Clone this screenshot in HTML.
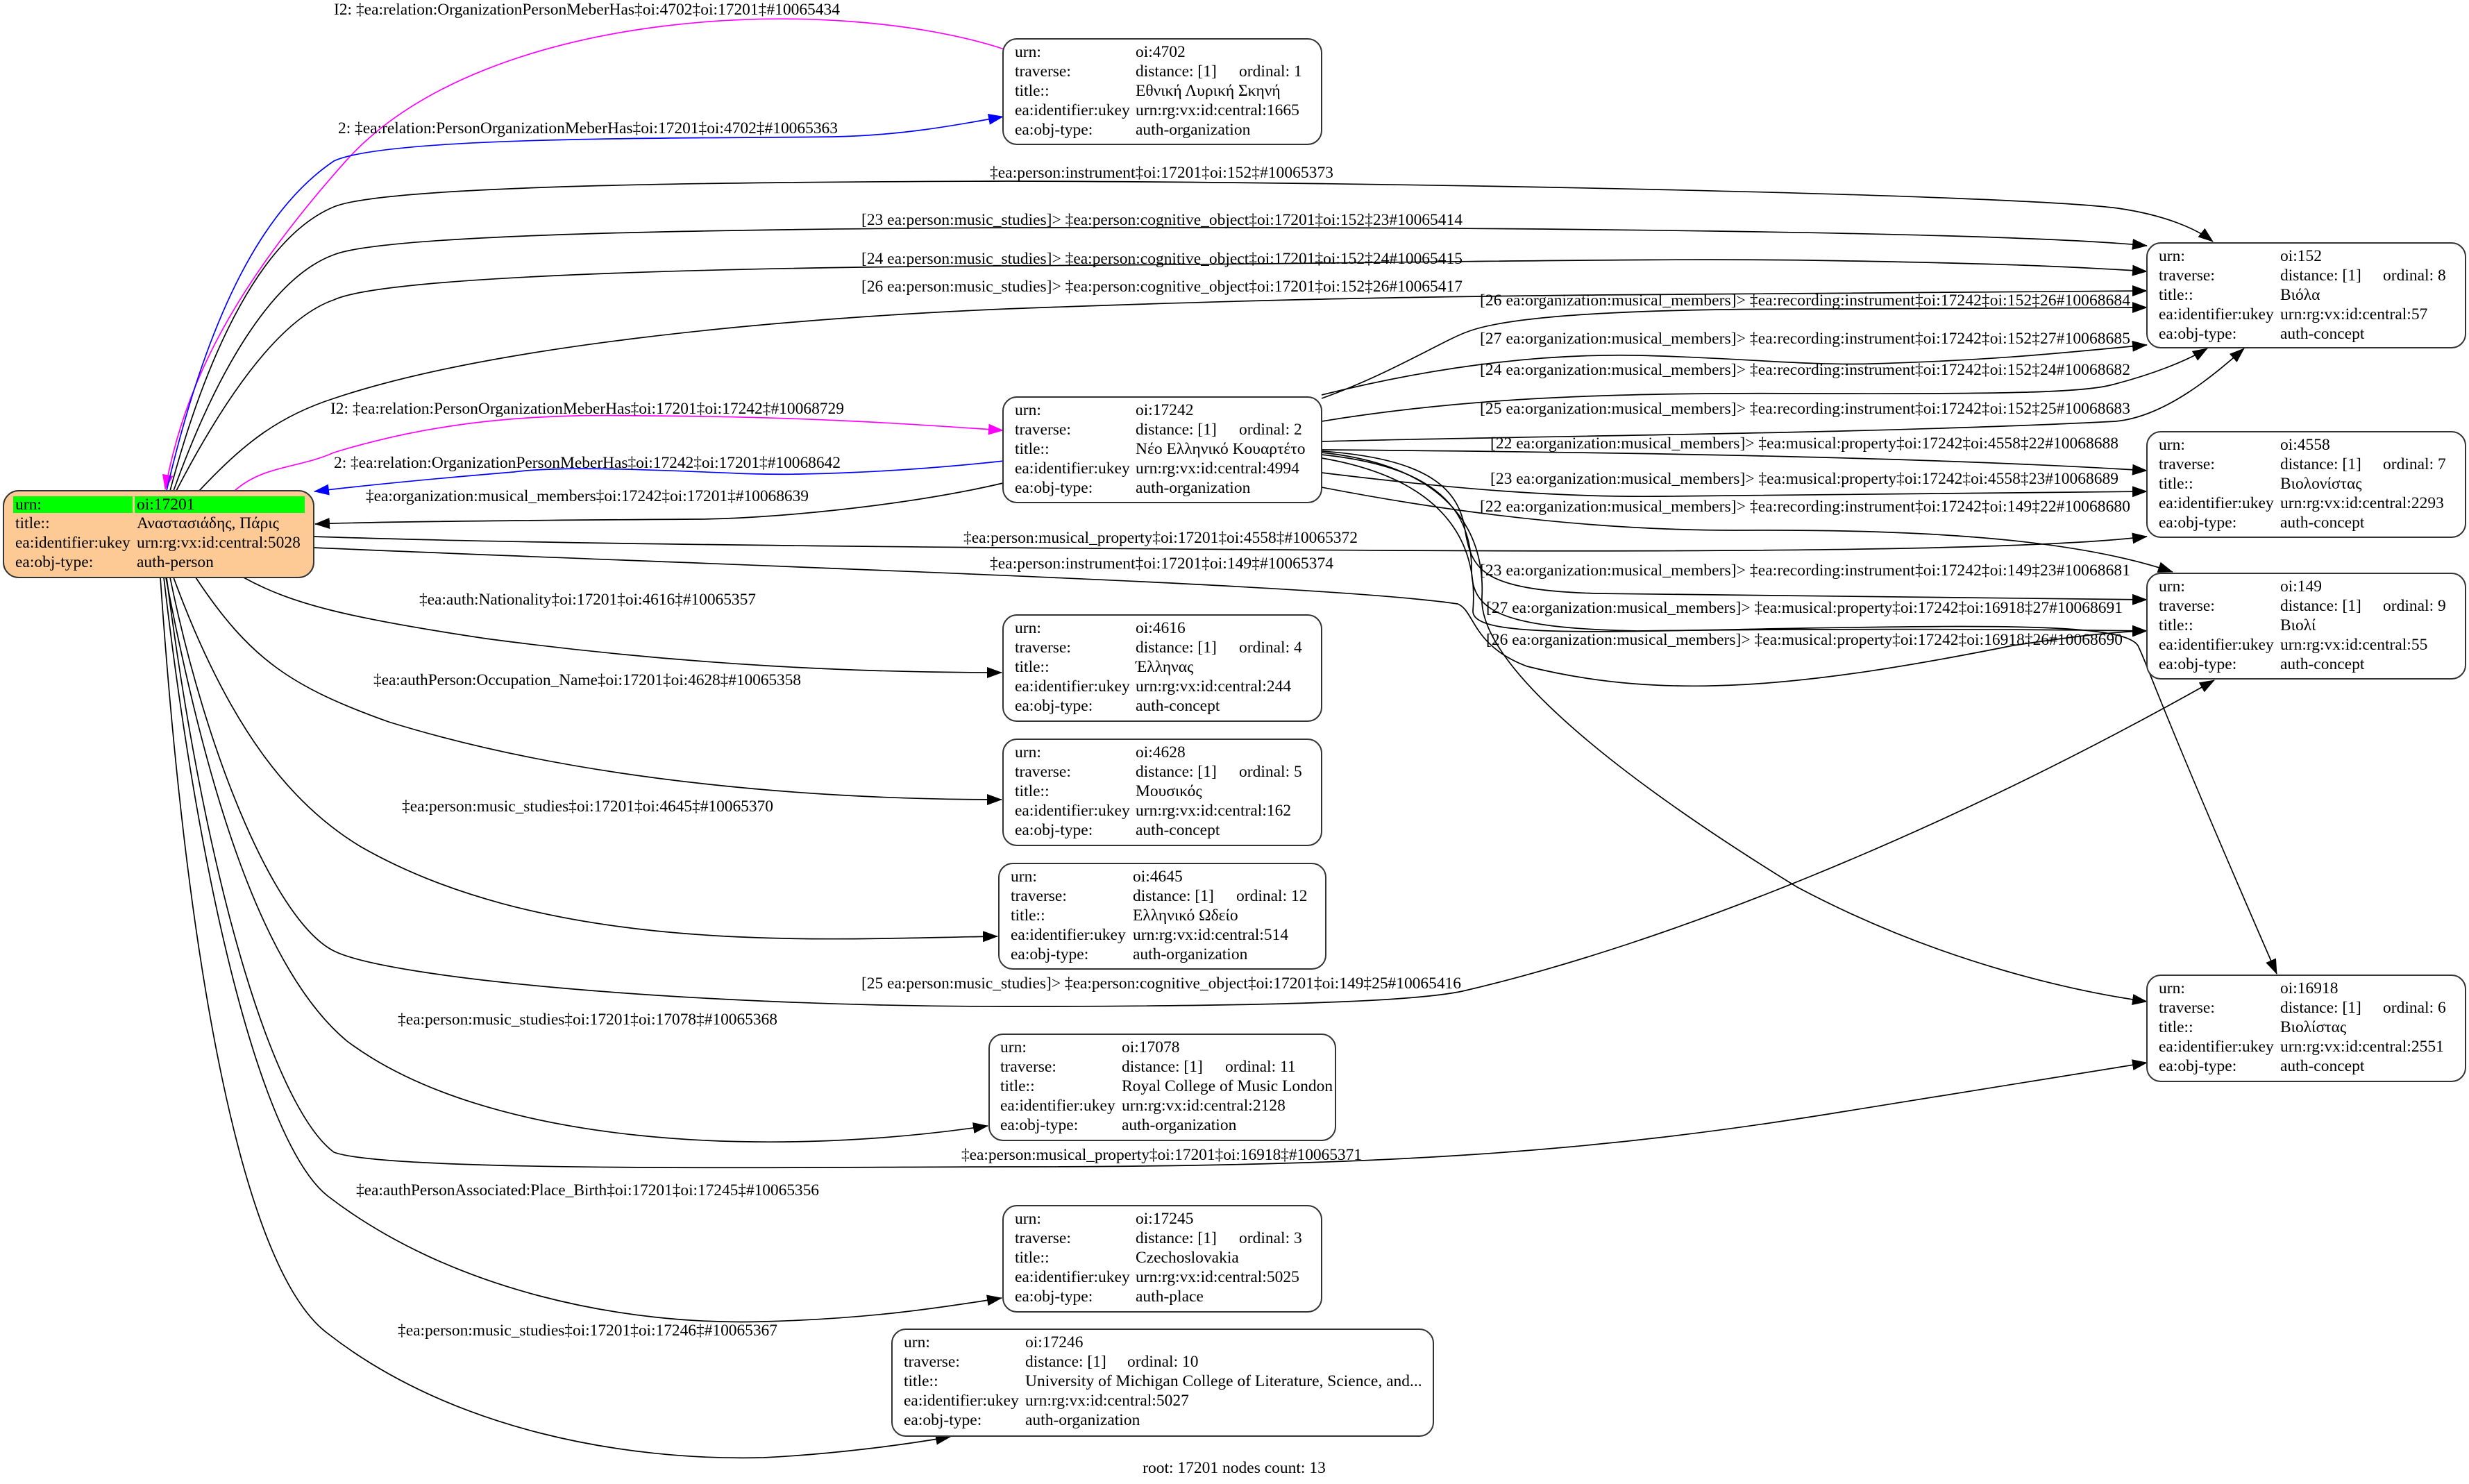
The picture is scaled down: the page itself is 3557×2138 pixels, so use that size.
<!DOCTYPE html>
<html><head><meta charset="utf-8"><style>
html,body{margin:0;padding:0;background:#fff;}
svg{display:block;}
text{font-family:"Liberation Serif","DejaVu Serif",serif;font-size:23.5px;fill:#000;}
.e{fill:none;stroke:#000;stroke-width:1.7;}
.n{fill:#fff;stroke:#333;stroke-width:2;}
</style></head><body>
<svg width="3557" height="2138" viewBox="0 0 3557 2138" xmlns="http://www.w3.org/2000/svg">
<defs>
<marker id="k" markerWidth="22" markerHeight="16" refX="21" refY="8" orient="auto" markerUnits="userSpaceOnUse"><path d="M0,0 L22,8 L0,16z" fill="#000"/></marker>
<marker id="m" markerWidth="22" markerHeight="16" refX="21" refY="8" orient="auto" markerUnits="userSpaceOnUse"><path d="M0,0 L22,8 L0,16z" fill="#f0f"/></marker>
<marker id="b" markerWidth="22" markerHeight="16" refX="21" refY="8" orient="auto" markerUnits="userSpaceOnUse"><path d="M0,0 L22,8 L0,16z" fill="#00f"/></marker>
</defs>

<!-- edges -->
<path d="M1447,71 C1200,-10 700,10 500,230 C330,420 265,560 238,705" style="fill:none;stroke:#f0f;stroke-width:1.7" marker-end="url(#m)"/>
<path d="M240,707 C300,450 380,300 481,232 C560,195 1000,200 1202,197 C1300,195 1380,180 1445,168" style="fill:none;stroke:#00f;stroke-width:1.7" marker-end="url(#b)"/>
<path class="e" d="M245,707 C300,500 380,340 481,298 C560,265 1100,262 1450,261 C2000,262 2900,280 3051,300 C3120,310 3165,330 3188,348" marker-end="url(#k)"/>
<path class="e" d="M250,707 C310,540 390,400 481,367 C560,335 1100,330 1450,328 C2200,326 2900,335 3093,354" marker-end="url(#k)"/>
<path class="e" d="M254,707 C320,580 400,460 481,432 C560,395 1100,385 1450,383 C2000,380 2400,370 2665,376 C2900,380 3000,385 3093,391" marker-end="url(#k)"/>
<path class="e" d="M287,707 C350,640 400,600 481,574 C700,500 1100,460 1450,445 C1800,432 2000,428 2300,425 C2700,421 2950,419 3093,419" marker-end="url(#k)"/>
<path d="M338,707 C380,670 430,675 481,652 C650,600 800,597 925,599 C1150,600 1300,610 1445,620" style="fill:none;stroke:#f0f;stroke-width:1.7" marker-end="url(#m)"/>
<path d="M1447,664 C1300,680 1150,686 1063,682 C900,675 800,672 740,680 C620,690 520,700 453,708" style="fill:none;stroke:#00f;stroke-width:1.7" marker-end="url(#b)"/>
<path class="e" d="M1445,696 C1300,730 1100,748 1000,748 C700,750 520,752 454,755" marker-end="url(#k)"/>
<path class="e" d="M452,773 C800,785 1500,790 2000,793 C2600,796 2950,790 3093,773" marker-end="url(#k)"/>
<path class="e" d="M452,789 C1000,813 1900,840 2100,870 C2125,880 2120,930 2200,960 C2400,1010 2600,990 2900,930 C3000,915 3050,910 3093,909" marker-end="url(#k)"/>
<path class="e" d="M351,832 C420,870 500,890 700,920 C1000,960 1250,969 1443,969" marker-end="url(#k)"/>
<path class="e" d="M282,832 C360,950 420,990 560,1040 C850,1130 1200,1152 1443,1152" marker-end="url(#k)"/>
<path class="e" d="M250,832 C330,1050 420,1160 520,1220 C800,1380 1200,1352 1437,1349" marker-end="url(#k)"/>
<path class="e" d="M245,832 C300,1100 400,1330 481,1370 C560,1410 1000,1450 1450,1450 C1900,1450 2050,1440 2107,1428 C2400,1360 2800,1200 3190,980" marker-end="url(#k)"/>
<path class="e" d="M239,832 C300,1150 380,1400 500,1500 C700,1650 1100,1670 1423,1622" marker-end="url(#k)"/>
<path class="e" d="M240,832 C300,1300 400,1600 481,1660 C560,1690 1200,1681 1450,1681 C2000,1681 2300,1660 2665,1600 C2850,1570 3000,1545 3093,1531" marker-end="url(#k)"/>
<path class="e" d="M236,832 C290,1300 380,1650 472,1723 C650,1860 900,1910 1100,1904 C1250,1900 1350,1885 1443,1870" marker-end="url(#k)"/>
<path class="e" d="M231,832 C270,1400 350,1830 472,1921 C650,2060 900,2105 1100,2100 C1200,2095 1300,2082 1369,2070" marker-end="url(#k)"/>

<path class="e" d="M1904,574 C2000,540 2080,490 2114,478 C2200,445 2500,445 2665,445 C2900,445 3000,443 3093,443" marker-end="url(#k)"/>
<path class="e" d="M1904,569 C2100,520 2250,510 2359,512 C2500,515 2600,527 2700,524 C2900,518 3000,505 3093,497" marker-end="url(#k)"/>
<path class="e" d="M1904,607 C2100,575 2300,565 2600,567 C2900,568 3000,565 3040,555 C3100,540 3150,520 3180,502" marker-end="url(#k)"/>
<path class="e" d="M1904,636 C2200,628 2700,625 3048,607 C3120,600 3190,540 3233,502" marker-end="url(#k)"/>
<path class="e" d="M1904,648 C2400,652 2800,660 3093,678" marker-end="url(#k)"/>
<path class="e" d="M1904,681 C2100,705 2250,717 2400,715 C2700,712 2950,710 3093,708" marker-end="url(#k)"/>
<path class="e" d="M1904,702 C2100,740 2300,764 2500,764 C2800,762 3000,780 3130,824" marker-end="url(#k)"/>
<path class="e" d="M1904,650 C2050,660 2100,700 2110,760 C2120,820 2130,850 2300,855 C2600,860 2900,862 3093,864" marker-end="url(#k)"/>
<path class="e" d="M1904,655 C2050,670 2120,720 2120,820 C2120,880 2160,905 2359,909 C2700,905 2950,907 3093,909" marker-end="url(#k)"/>
<path class="e" d="M1904,660 C2080,690 2130,780 2122,880 C2120,920 2300,910 2600,905 C2900,900 3060,900 3080,930 C3095,960 3100,990 3280,1403" marker-end="url(#k)"/>
<path class="e" d="M1904,652 C2080,670 2140,760 2135,860 C2130,950 2300,1100 2589,1278 C2800,1390 3000,1430 3093,1443" marker-end="url(#k)"/>

<!-- edge labels -->
<text x="481" y="21" textLength="729">I2: ‡ea:relation:OrganizationPersonMeberHas‡oi:4702‡oi:17201‡#10065434</text>
<text x="487" y="192" textLength="720">2: ‡ea:relation:PersonOrganizationMeberHas‡oi:17201‡oi:4702‡#10065363</text>
<text x="1426" y="256" textLength="495">‡ea:person:instrument‡oi:17201‡oi:152‡#10065373</text>
<text x="1241" y="324" textLength="866">[23 ea:person:music_studies]&gt; ‡ea:person:cognitive_object‡oi:17201‡oi:152‡23#10065414</text>
<text x="1241" y="380" textLength="866">[24 ea:person:music_studies]&gt; ‡ea:person:cognitive_object‡oi:17201‡oi:152‡24#10065415</text>
<text x="1241" y="420" textLength="866">[26 ea:person:music_studies]&gt; ‡ea:person:cognitive_object‡oi:17201‡oi:152‡26#10065417</text>
<text x="476" y="596" textLength="740">I2: ‡ea:relation:PersonOrganizationMeberHas‡oi:17201‡oi:17242‡#10068729</text>
<text x="481" y="674" textLength="730">2: ‡ea:relation:OrganizationPersonMeberHas‡oi:17242‡oi:17201‡#10068642</text>
<text x="527" y="722" textLength="638">‡ea:organization:musical_members‡oi:17242‡oi:17201‡#10068639</text>
<text x="1388" y="782" textLength="568">‡ea:person:musical_property‡oi:17201‡oi:4558‡#10065372</text>
<text x="1426" y="819" textLength="495">‡ea:person:instrument‡oi:17201‡oi:149‡#10065374</text>
<text x="604" y="871" textLength="485">‡ea:auth:Nationality‡oi:17201‡oi:4616‡#10065357</text>
<text x="538" y="987" textLength="616">‡ea:authPerson:Occupation_Name‡oi:17201‡oi:4628‡#10065358</text>
<text x="579" y="1169" textLength="535">‡ea:person:music_studies‡oi:17201‡oi:4645‡#10065370</text>
<text x="1241" y="1424" textLength="864">[25 ea:person:music_studies]&gt; ‡ea:person:cognitive_object‡oi:17201‡oi:149‡25#10065416</text>
<text x="573" y="1476" textLength="547">‡ea:person:music_studies‡oi:17201‡oi:17078‡#10065368</text>
<text x="1385" y="1671" textLength="577">‡ea:person:musical_property‡oi:17201‡oi:16918‡#10065371</text>
<text x="513" y="1722" textLength="667">‡ea:authPersonAssociated:Place_Birth‡oi:17201‡oi:17245‡#10065356</text>
<text x="573" y="1924" textLength="547">‡ea:person:music_studies‡oi:17201‡oi:17246‡#10065367</text>

<text x="2132" y="440" textLength="937">[26 ea:organization:musical_members]&gt; ‡ea:recording:instrument‡oi:17242‡oi:152‡26#10068684</text>
<text x="2132" y="495" textLength="937">[27 ea:organization:musical_members]&gt; ‡ea:recording:instrument‡oi:17242‡oi:152‡27#10068685</text>
<text x="2132" y="540" textLength="937">[24 ea:organization:musical_members]&gt; ‡ea:recording:instrument‡oi:17242‡oi:152‡24#10068682</text>
<text x="2132" y="596" textLength="937">[25 ea:organization:musical_members]&gt; ‡ea:recording:instrument‡oi:17242‡oi:152‡25#10068683</text>
<text x="2147" y="646" textLength="905">[22 ea:organization:musical_members]&gt; ‡ea:musical:property‡oi:17242‡oi:4558‡22#10068688</text>
<text x="2147" y="697" textLength="905">[23 ea:organization:musical_members]&gt; ‡ea:musical:property‡oi:17242‡oi:4558‡23#10068689</text>
<text x="2132" y="737" textLength="937">[22 ea:organization:musical_members]&gt; ‡ea:recording:instrument‡oi:17242‡oi:149‡22#10068680</text>
<text x="2132" y="829" textLength="937">[23 ea:organization:musical_members]&gt; ‡ea:recording:instrument‡oi:17242‡oi:149‡23#10068681</text>
<text x="2141" y="883" textLength="917">[27 ea:organization:musical_members]&gt; ‡ea:musical:property‡oi:17242‡oi:16918‡27#10068691</text>
<text x="2141" y="929" textLength="917">[26 ea:organization:musical_members]&gt; ‡ea:musical:property‡oi:17242‡oi:16918‡26#10068690</text>

<!-- root node -->
<rect x="5" y="707" width="447" height="125" rx="22" ry="22" fill="#fdca96" stroke="#333" stroke-width="2"/>
<rect x="19" y="715" width="172" height="24" fill="#00ff00"/>
<rect x="194" y="715" width="245" height="24" fill="#00ff00"/>
<text x="22" y="734">urn:</text><text x="197" y="734">oi:17201</text>
<text x="22" y="761">title::</text><text x="197" y="761">Αναστασιάδης, Πάρις</text>
<text x="22" y="789">ea:identifier:ukey</text><text x="197" y="789">urn:rg:vx:id:central:5028</text>
<text x="22" y="817">ea:obj-type:</text><text x="197" y="817">auth-person</text>

<!-- nodes -->
<g transform="translate(1445,56)"><rect class="n" x="0" y="0" width="459" height="152" rx="20"/>
<text x="17" y="26">urn:</text><text x="191" y="26">oi:4702</text>
<text x="17" y="54">traverse:</text><text x="191" y="54">distance: [1]</text><text x="340" y="54">ordinal: 1</text>
<text x="17" y="82">title::</text><text x="191" y="82">Εθνική Λυρική Σκηνή</text>
<text x="17" y="110">ea:identifier:ukey</text><text x="191" y="110">urn:rg:vx:id:central:1665</text>
<text x="17" y="138">ea:obj-type:</text><text x="191" y="138">auth-organization</text></g>

<g transform="translate(1445,572)"><rect class="n" x="0" y="0" width="459" height="152" rx="20"/>
<text x="17" y="26">urn:</text><text x="191" y="26">oi:17242</text>
<text x="17" y="54">traverse:</text><text x="191" y="54">distance: [1]</text><text x="340" y="54">ordinal: 2</text>
<text x="17" y="82">title::</text><text x="191" y="82">Νέο Ελληνικό Κουαρτέτο</text>
<text x="17" y="110">ea:identifier:ukey</text><text x="191" y="110">urn:rg:vx:id:central:4994</text>
<text x="17" y="138">ea:obj-type:</text><text x="191" y="138">auth-organization</text></g>

<g transform="translate(1445,886)"><rect class="n" x="0" y="0" width="459" height="153" rx="20"/>
<text x="17" y="26">urn:</text><text x="191" y="26">oi:4616</text>
<text x="17" y="54">traverse:</text><text x="191" y="54">distance: [1]</text><text x="340" y="54">ordinal: 4</text>
<text x="17" y="82">title::</text><text x="191" y="82">Έλληνας</text>
<text x="17" y="110">ea:identifier:ukey</text><text x="191" y="110">urn:rg:vx:id:central:244</text>
<text x="17" y="138">ea:obj-type:</text><text x="191" y="138">auth-concept</text></g>

<g transform="translate(1445,1065)"><rect class="n" x="0" y="0" width="459" height="153" rx="20"/>
<text x="17" y="26">urn:</text><text x="191" y="26">oi:4628</text>
<text x="17" y="54">traverse:</text><text x="191" y="54">distance: [1]</text><text x="340" y="54">ordinal: 5</text>
<text x="17" y="82">title::</text><text x="191" y="82">Μουσικός</text>
<text x="17" y="110">ea:identifier:ukey</text><text x="191" y="110">urn:rg:vx:id:central:162</text>
<text x="17" y="138">ea:obj-type:</text><text x="191" y="138">auth-concept</text></g>

<g transform="translate(1439,1244)"><rect class="n" x="0" y="0" width="471" height="152" rx="20"/>
<text x="17" y="26">urn:</text><text x="193" y="26">oi:4645</text>
<text x="17" y="54">traverse:</text><text x="193" y="54">distance: [1]</text><text x="342" y="54">ordinal: 12</text>
<text x="17" y="82">title::</text><text x="193" y="82">Ελληνικό Ωδείο</text>
<text x="17" y="110">ea:identifier:ukey</text><text x="193" y="110">urn:rg:vx:id:central:514</text>
<text x="17" y="138">ea:obj-type:</text><text x="193" y="138">auth-organization</text></g>

<g transform="translate(1425,1490)"><rect class="n" x="0" y="0" width="499" height="153" rx="20"/>
<text x="16" y="26">urn:</text><text x="191" y="26">oi:17078</text>
<text x="16" y="54">traverse:</text><text x="191" y="54">distance: [1]</text><text x="340" y="54">ordinal: 11</text>
<text x="16" y="82">title::</text><text x="191" y="82">Royal College of Music London</text>
<text x="16" y="110">ea:identifier:ukey</text><text x="191" y="110">urn:rg:vx:id:central:2128</text>
<text x="16" y="138">ea:obj-type:</text><text x="191" y="138">auth-organization</text></g>

<g transform="translate(1445,1737)"><rect class="n" x="0" y="0" width="459" height="153" rx="20"/>
<text x="17" y="26">urn:</text><text x="191" y="26">oi:17245</text>
<text x="17" y="54">traverse:</text><text x="191" y="54">distance: [1]</text><text x="340" y="54">ordinal: 3</text>
<text x="17" y="82">title::</text><text x="191" y="82">Czechoslovakia</text>
<text x="17" y="110">ea:identifier:ukey</text><text x="191" y="110">urn:rg:vx:id:central:5025</text>
<text x="17" y="138">ea:obj-type:</text><text x="191" y="138">auth-place</text></g>

<g transform="translate(1285,1915)"><rect class="n" x="0" y="0" width="780" height="154" rx="20"/>
<text x="17" y="26">urn:</text><text x="192" y="26">oi:17246</text>
<text x="17" y="54">traverse:</text><text x="192" y="54">distance: [1]</text><text x="339" y="54">ordinal: 10</text>
<text x="17" y="82">title::</text><text x="192" y="82">University of Michigan College of Literature, Science, and...</text>
<text x="17" y="110">ea:identifier:ukey</text><text x="192" y="110">urn:rg:vx:id:central:5027</text>
<text x="17" y="138">ea:obj-type:</text><text x="192" y="138">auth-organization</text></g>

<g transform="translate(3093,350)"><rect class="n" x="0" y="0" width="459" height="151" rx="20"/>
<text x="17" y="26">urn:</text><text x="192" y="26">oi:152</text>
<text x="17" y="54">traverse:</text><text x="192" y="54">distance: [1]</text><text x="340" y="54">ordinal: 8</text>
<text x="17" y="82">title::</text><text x="192" y="82">Βιόλα</text>
<text x="17" y="110">ea:identifier:ukey</text><text x="192" y="110">urn:rg:vx:id:central:57</text>
<text x="17" y="138">ea:obj-type:</text><text x="192" y="138">auth-concept</text></g>

<g transform="translate(3093,622)"><rect class="n" x="0" y="0" width="459" height="152" rx="20"/>
<text x="17" y="26">urn:</text><text x="192" y="26">oi:4558</text>
<text x="17" y="54">traverse:</text><text x="192" y="54">distance: [1]</text><text x="340" y="54">ordinal: 7</text>
<text x="17" y="82">title::</text><text x="192" y="82">Βιολονίστας</text>
<text x="17" y="110">ea:identifier:ukey</text><text x="192" y="110">urn:rg:vx:id:central:2293</text>
<text x="17" y="138">ea:obj-type:</text><text x="192" y="138">auth-concept</text></g>

<g transform="translate(3093,826)"><rect class="n" x="0" y="0" width="459" height="152" rx="20"/>
<text x="17" y="26">urn:</text><text x="192" y="26">oi:149</text>
<text x="17" y="54">traverse:</text><text x="192" y="54">distance: [1]</text><text x="340" y="54">ordinal: 9</text>
<text x="17" y="82">title::</text><text x="192" y="82">Βιολί</text>
<text x="17" y="110">ea:identifier:ukey</text><text x="192" y="110">urn:rg:vx:id:central:55</text>
<text x="17" y="138">ea:obj-type:</text><text x="192" y="138">auth-concept</text></g>

<g transform="translate(3093,1405)"><rect class="n" x="0" y="0" width="459" height="153" rx="20"/>
<text x="17" y="26">urn:</text><text x="192" y="26">oi:16918</text>
<text x="17" y="54">traverse:</text><text x="192" y="54">distance: [1]</text><text x="340" y="54">ordinal: 6</text>
<text x="17" y="82">title::</text><text x="192" y="82">Βιολίστας</text>
<text x="17" y="110">ea:identifier:ukey</text><text x="192" y="110">urn:rg:vx:id:central:2551</text>
<text x="17" y="138">ea:obj-type:</text><text x="192" y="138">auth-concept</text></g>

<text x="1778" y="2122" text-anchor="middle">root: 17201 nodes count: 13</text>
</svg>
</body></html>
